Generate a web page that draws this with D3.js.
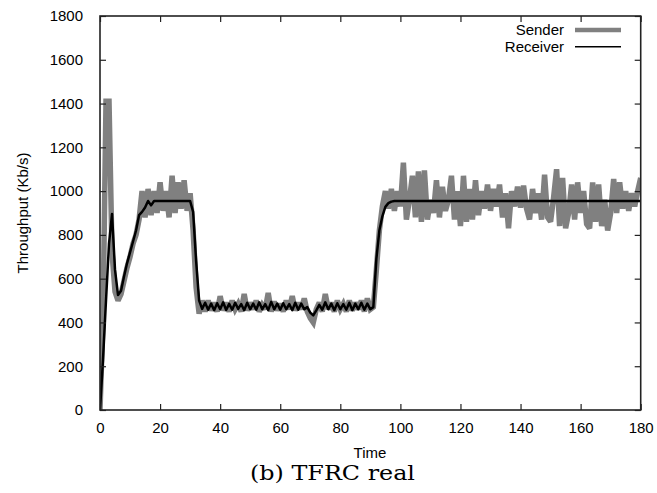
<!DOCTYPE html>
<html>
<head>
<meta charset="utf-8">
<script src="https://cdn.jsdelivr.net/npm/d3@7/dist/d3.min.js"></script>
<style>
  html, body { margin: 0; padding: 0; background: #fff; }
  svg { display: block; }
</style>
</head>
<body>
<svg id="chart" width="657" height="493"></svg>
<script>
// ---- data ----
const xTicks = [0, 20, 40, 60, 80, 100, 120, 140, 160, 180];
const yTicks = [0, 200, 400, 600, 800, 1000, 1200, 1400, 1600, 1800];
const seriesNames = ["Sender", "Receiver"];

// throughput sampled once per second, t = 0 .. 180 s
const senderValues = [
  0, 420, 1410, 1410, 720, 540, 500, 530, 590, 650,
  700, 760, 800, 870, 1000, 880, 1010, 890, 1000, 900,
  1040, 910, 1000, 880, 1070, 900, 1040, 920, 1050, 910,
  990, 820, 560, 440, 500, 450, 500, 455, 490, 450,
  520, 455, 490, 450, 500, 460, 485, 450, 530, 455,
  490, 460, 500, 450, 480, 460, 535, 450, 495, 455,
  485, 450, 500, 460, 520, 455, 490, 460, 510, 450,
  420, 400, 460, 490, 450, 530, 460, 490, 450, 500,
  460, 485, 450, 500, 455, 490, 460, 500, 450, 510,
  460, 470, 640, 820, 930, 1000, 920, 1010, 910, 1000,
  930, 1130, 870, 960, 1070, 880, 1090, 860, 1095, 870,
  960, 900, 1050, 880, 1020, 910, 960, 1070, 870, 1000,
  840, 1070, 860, 1010, 870, 1050, 890, 1000, 920, 1030,
  910, 1010, 930, 1030, 880, 990, 830, 1000, 930, 1020,
  925, 1025, 920, 870, 1010, 900, 990, 870, 1075, 880,
  860, 970, 1100, 840, 1060, 830, 900, 1030, 870, 1040,
  900, 1000, 850, 830, 1040, 860, 1030, 840, 960, 820,
  900, 1055, 900, 1040, 920, 1000, 910, 990, 930, 1000,
  1060
];

const receiverValues = [
  0, 230, 500, 760, 895, 640, 525, 545, 610, 670,
  720, 770, 820, 890, 905, 925, 955, 935, 955, 955,
  955, 955, 955, 955, 955, 955, 955, 955, 955, 955,
  955, 905, 680, 500, 462, 490, 458, 486, 456, 488,
  460, 492, 457, 485, 458, 490, 462, 484, 456, 490,
  460, 486, 458, 492, 460, 484, 456, 494, 460, 486,
  458, 488, 460, 484, 456, 490, 458, 486, 460, 470,
  445, 432, 455, 480, 458, 492, 460, 486, 456, 488,
  460, 484, 458, 490, 456, 486, 460, 490, 458, 486,
  460, 470, 690, 820, 885, 928, 945, 952, 955, 955,
  955, 955, 955, 955, 955, 955, 955, 955, 955, 955,
  955, 955, 955, 955, 955, 955, 955, 955, 955, 955,
  955, 955, 955, 955, 955, 955, 955, 955, 955, 955,
  955, 955, 955, 955, 955, 955, 955, 955, 955, 955,
  955, 955, 955, 955, 955, 955, 955, 955, 955, 955,
  955, 955, 955, 955, 955, 955, 955, 955, 955, 955,
  955, 955, 955, 955, 955, 955, 955, 955, 955, 955,
  955, 955, 955, 955, 955, 955, 955, 955, 955, 955,
  955
];
const times = d3.range(senderValues.length); // seconds

// ---- layout ----
const svg = d3.select("#chart");
const plot = { left: 100, right: 640.7, top: 16, bottom: 410 };
const x = d3.scaleLinear().domain([0, 180]).range([plot.left, plot.right]);
const y = d3.scaleLinear().domain([0, 1800]).range([plot.bottom, plot.top]);
const font = "'Liberation Sans', Arial, Helvetica, sans-serif";
const tickLen = 6;

svg.append("clipPath").attr("id", "plotclip")
  .append("rect").attr("x", plot.left).attr("y", plot.top)
  .attr("width", plot.right - plot.left).attr("height", plot.bottom - plot.top);

const line = d3.line().x(d => x(d[0])).y(d => y(d[1]));

const sender = times.map((t, i) => [t, senderValues[i]]);
const receiver = times.map((t, i) => [t, receiverValues[i]]);

svg.append("path").datum(sender)
  .attr("clip-path", "url(#plotclip)")
  .attr("d", line).attr("fill", "none")
  .attr("stroke", "#808080").attr("stroke-width", 5.5)
  .attr("stroke-linejoin", "miter").attr("stroke-miterlimit", 2.5);

svg.append("path").datum(receiver)
  .attr("clip-path", "url(#plotclip)")
  .attr("d", line).attr("fill", "none")
  .attr("stroke", "#000").attr("stroke-width", 2.5)
  .attr("stroke-linejoin", "round");

// ---- axes (gnuplot style: inward ticks, mirrored) ----
const axisStyle = g => {
  g.select(".domain").remove();
  g.selectAll(".tick line").attr("stroke", "#222").attr("stroke-width", 1.2);
  g.selectAll(".tick text").attr("font-family", font).attr("font-size", 15).attr("fill", "#000");
};
const fmt = d3.format("d");

svg.append("g").attr("transform", `translate(0,${plot.bottom})`)
  .call(d3.axisBottom(x).tickValues(xTicks).tickFormat(fmt).tickSizeInner(-tickLen).tickSizeOuter(0).tickPadding(12))
  .call(axisStyle);
svg.append("g").attr("transform", `translate(0,${plot.top})`)
  .call(d3.axisTop(x).tickValues(xTicks).tickSizeInner(-tickLen).tickSizeOuter(0).tickFormat(""))
  .call(axisStyle);
svg.append("g").attr("transform", `translate(${plot.left},0)`)
  .call(d3.axisLeft(y).tickValues(yTicks).tickFormat(fmt).tickSizeInner(-tickLen).tickSizeOuter(0).tickPadding(17))
  .call(axisStyle);
svg.append("g").attr("transform", `translate(${plot.right},0)`)
  .call(d3.axisRight(y).tickValues(yTicks).tickSizeInner(-tickLen).tickSizeOuter(0).tickFormat(""))
  .call(axisStyle);

svg.append("rect")
  .attr("x", plot.left).attr("y", plot.top)
  .attr("width", plot.right - plot.left).attr("height", plot.bottom - plot.top)
  .attr("fill", "none").attr("stroke", "#222").attr("stroke-width", 1.6);

// ---- labels ----
svg.append("text").text("Time")
  .attr("x", 370).attr("y", 458)
  .attr("text-anchor", "middle").attr("font-family", font).attr("font-size", 15);

svg.append("text").text("Throughput (Kb/s)")
  .attr("transform", `translate(28,${(plot.top + plot.bottom) / 2}) rotate(-90)`)
  .attr("text-anchor", "middle").attr("font-family", font).attr("font-size", 15);

svg.append("text").text("(b) TFRC real")
  .attr("x", 250).attr("y", 480)
  .attr("textLength", 165).attr("lengthAdjust", "spacingAndGlyphs")
  .attr("font-family", "'DejaVu Serif', serif").attr("font-weight", 300).attr("font-size", 21);

// ---- legend ----
const legendColors = ["#808080", "#000"];
const legendWidths = [4.5, 1.5];
seriesNames.forEach((name, i) => {
  const ly = 30 + i * 16.7;
  svg.append("text").text(name)
    .attr("x", 564).attr("y", ly + 5)
    .attr("text-anchor", "end").attr("font-family", font).attr("font-size", 15);
  svg.append("line")
    .attr("x1", 575).attr("x2", 621).attr("y1", ly).attr("y2", ly)
    .attr("stroke", legendColors[i]).attr("stroke-width", legendWidths[i]);
});
</script>
</body>
</html>
